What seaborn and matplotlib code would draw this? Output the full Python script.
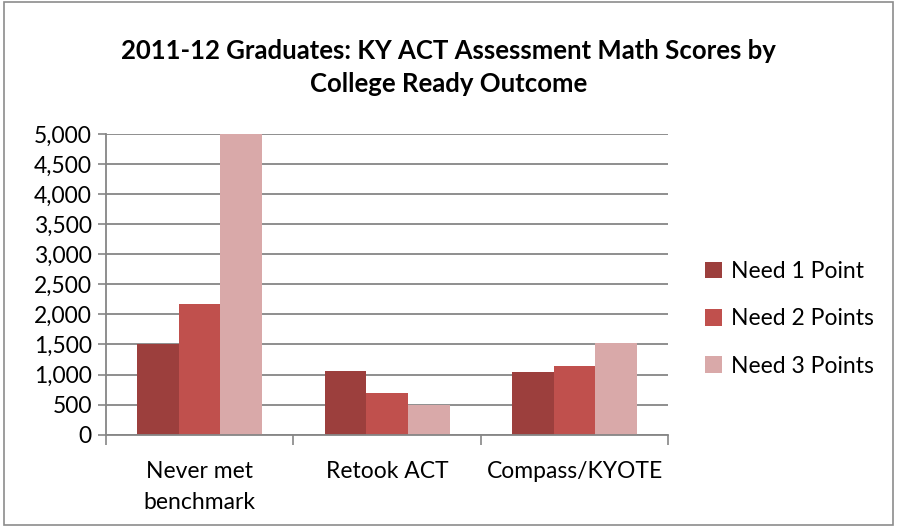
import matplotlib
matplotlib.use("Agg")
import matplotlib.pyplot as plt
import seaborn as sns
import pandas as pd
from matplotlib.patches import Rectangle

categories = ["Never met\nbenchmark", "Retook ACT", "Compass/KYOTE"]
series = ["Need 1 Point", "Need 2 Points", "Need 3 Points"]
need1 = [1510, 1060, 1050]
need2 = [2180, 690, 1140]
need3 = [5000, 495, 1525]
colors = ["#9C3F3D", "#C0504D", "#D9A9A9"]
yticks = [0, 500, 1000, 1500, 2000, 2500, 3000, 3500, 4000, 4500, 5000]

rows = []
for s, vals in zip(series, [need1, need2, need3]):
    for c, v in zip(categories, vals):
        rows.append({"cat": c, "series": s, "value": v})
df = pd.DataFrame(rows)

sns.set_theme(style="white")
plt.rcParams['font.family'] = ['Lato', 'DejaVu Sans']
plt.rcParams['text.color'] = 'black'
plt.rcParams['xtick.color'] = 'black'
plt.rcParams['ytick.color'] = 'black'

fig = plt.figure(figsize=(8.97, 5.27), dpi=100)
ax = fig.add_axes([0.118, 0.175, 0.627, 0.571])

sns.barplot(data=df, x="cat", y="value", hue="series", order=categories,
            hue_order=series, palette=colors, width=0.667, saturation=1,
            ax=ax, legend=True, edgecolor="none")

ax.set_ylim(0, 5000)
ax.set_xlim(-0.5, 2.5)
ax.set_yticks(yticks)
ax.set_yticklabels([f"{v:,}" for v in yticks], fontsize=16.5)
ax.set_xlabel("")
ax.set_ylabel("")
ax.set_xticks([0, 1, 2])
ax.set_xticklabels(categories, fontsize=16.5, linespacing=1.6)
ax.tick_params(axis="x", which="major", length=0, pad=19, labelcolor="black")
ax.tick_params(axis="y", length=6, width=1.2, color="#868686", pad=4, left=True, labelcolor="black")
ax.grid(axis="y", color="#868686", linewidth=1.3)
ax.set_axisbelow(True)
for side in ["top", "right"]:
    ax.spines[side].set_visible(False)
for side in ["left", "bottom"]:
    ax.spines[side].set_color("#868686")
    ax.spines[side].set_linewidth(1.3)

ax.set_xticks([-0.5, 0.5, 1.5, 2.5], minor=True)
ax.tick_params(axis="x", which="minor", length=7, width=1.2, color="#868686", bottom=True)

leg = ax.legend(loc="center left", bbox_to_anchor=(1.028, 0.385), frameon=False,
                fontsize=16.5, handlelength=0.75, handleheight=0.75, labelspacing=1.15,
                handletextpad=0.4)
for t in leg.get_texts():
    t.set_color("black")

fig.text(0.5, 0.872, "2011-12 Graduates: KY ACT Assessment Math Scores by\nCollege Ready Outcome",
         ha="center", va="center", fontsize=18.5, fontweight="bold", linespacing=1.45,
         color="black")

fig.patches.append(Rectangle((0.004, 0.004), 0.992, 0.992, transform=fig.transFigure,
                             fill=False, edgecolor="#8c8c8c", linewidth=1.2))

fig.savefig("out.png", dpi=100)
